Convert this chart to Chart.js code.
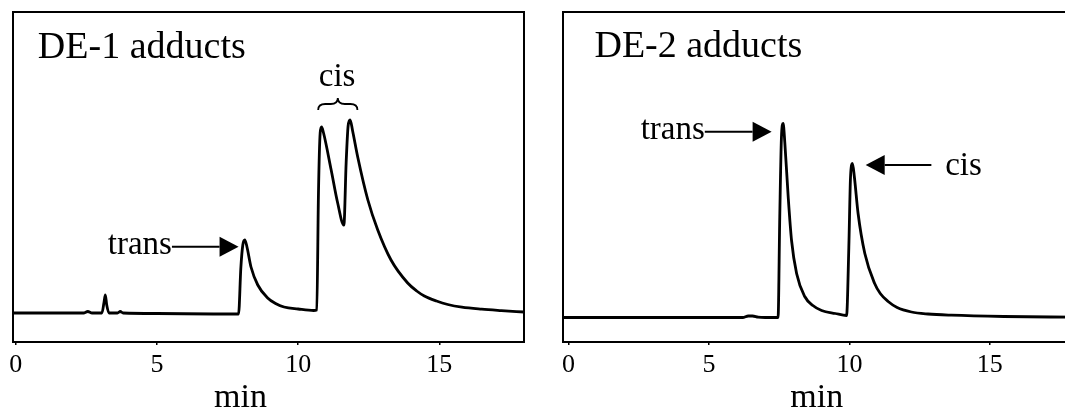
<!DOCTYPE html>
<html>
<head>
<meta charset="utf-8">
<title>DE-1 / DE-2 adducts</title>
<script src="https://cdn.jsdelivr.net/npm/chart.js@4.4.1/dist/chart.umd.min.js"></script>
<style>
  html, body { margin: 0; padding: 0; background: #fff; overflow: hidden; }
  body { width: 1065px; height: 409px; position: relative; }
  canvas { position: absolute; top: 0; }
  #de1 { left: 0; }
  #de2 { left: 545px; }
</style>
</head>
<body>
<canvas id="de1" width="545" height="409"></canvas>
<canvas id="de2" width="540" height="409"></canvas>
<script>
// retention time (min) and detector signal (arbitrary units, 0 = baseline)
const de1Time   = [-0.1, 2.4, 2.55, 2.7, 3.05, 3.12, 3.17, 3.22, 3.3, 3.6, 3.7, 3.8, 5.0, 7.0,
                   7.89, 7.97, 8.04, 8.11, 8.18, 8.33, 8.57, 8.92, 9.2, 9.5, 10.0, 10.55,
                   10.66, 10.72, 10.78, 10.83, 10.9, 11.17, 11.4, 11.62,
                   11.7, 11.77, 11.84, 11.93, 12.11, 12.47, 12.82, 13.29, 13.88, 14.2, 14.47,
                   14.9, 15.3, 15.8, 16.5, 17.2, 18.0];
const de1Signal = [0, 0, 1.5, 0, 0, 10, 18, 8, 0, 0, 1.5, 0, -0.5, -1,
                   -1, 45, 68, 73, 67, 46, 28, 15, 9.5, 6, 4, 2.5,
                   3, 120, 180, 186, 180, 143, 110, 88,
                   150, 187, 193, 182, 156, 113, 83, 53, 30, 22, 17,
                   12, 8.5, 5.8, 3.8, 2.4, 1];

const de2Time   = [-0.2, 6.2, 6.4, 6.55, 6.75, 7.0,
                   7.46, 7.52, 7.58, 7.64, 7.7, 7.82, 7.94, 8.12, 8.41, 8.7, 9.01, 9.5, 9.9,
                   9.98, 10.04, 10.11, 10.18, 10.31, 10.55, 10.9, 11.1, 11.38, 11.7, 12.21,
                   12.8, 13.63, 15.5, 18.0];
const de2Signal = [0, 0, 1.5, 1.5, 0.3, 0,
                   0, 100, 180, 194, 175, 121, 77, 44, 21, 12, 7, 4, 2,
                   70, 140, 154, 140, 104, 64, 34, 24, 16, 10, 5.5,
                   3.5, 2.3, 1, 0.3];

const xTickValues = [0, 5, 10, 15];
const xTitle = 'min';

const SERIF = '"Liberation Serif", "Times New Roman", serif';

// labels and arrows, placed in data units (min, signal)
const de1Notes = {
  texts: [
    { text: 'DE-1 adducts', x: 0.78, y: 254.7, size: 38, align: 'left' },
    { text: 'trans', x: 5.53, y: 58.7, size: 33, align: 'right' },
    { text: 'cis', x: 11.38, y: 227, size: 33, align: 'center' }
  ],
  arrows: [ { from: 5.53, to: 7.89, y: 66.3 } ],
  braces: [ { from: 10.71, to: 12.1, top: 215, bottom: 203 } ],
  axisLabelAt: 7.96
};

const de2Notes = {
  texts: [
    { text: 'DE-2 adducts', x: 0.92, y: 260.2, size: 38, align: 'left' },
    { text: 'trans', x: 4.85, y: 178.2, size: 33, align: 'right' },
    { text: 'cis', x: 13.41, y: 142.5, size: 33, align: 'left' }
  ],
  arrows: [ { from: 4.85, to: 7.23, y: 185.8 }, { from: 12.92, to: 10.58, y: 152.5 } ],
  braces: [],
  axisLabelAt: 8.84
};

function drawArrow(ctx, x1, x2, y) {
  const dir = Math.sign(x2 - x1);
  const headLen = 19, headHalf = 10;
  ctx.beginPath();
  ctx.moveTo(x1, y);
  ctx.lineTo(x2 - dir * headLen, y);
  ctx.stroke();
  ctx.beginPath();
  ctx.moveTo(x2, y);
  ctx.lineTo(x2 - dir * headLen, y - headHalf);
  ctx.lineTo(x2 - dir * headLen, y + headHalf);
  ctx.closePath();
  ctx.fill();
}

function drawBrace(ctx, x1, x2, yTop, yBot) {
  const xm = (x1 + x2) / 2, ym = (yTop + yBot) / 2;
  ctx.beginPath();
  ctx.moveTo(x1, yBot);
  ctx.quadraticCurveTo(x1, ym, x1 + 7, ym);
  ctx.lineTo(xm - 7, ym);
  ctx.quadraticCurveTo(xm, ym, xm, yTop);
  ctx.quadraticCurveTo(xm, ym, xm + 7, ym);
  ctx.lineTo(x2 - 7, ym);
  ctx.quadraticCurveTo(x2, ym, x2, yBot);
  ctx.stroke();
}

const notesPlugin = {
  id: 'notes',
  afterDatasetsDraw(chart, args, opts) {
    const { ctx, chartArea: a, scales: { x, y } } = chart;
    const px = v => x.getPixelForValue(v);
    const py = v => y.getPixelForValue(v);
    ctx.save();
    ctx.strokeStyle = '#000';
    ctx.fillStyle = '#000';
    // box round the plot
    ctx.lineWidth = 2;
    ctx.strokeRect(a.left, a.top, a.right - a.left, a.bottom - a.top);

    ctx.textBaseline = 'alphabetic';
    opts.texts.forEach(t => {
      ctx.font = t.size + 'px ' + SERIF;
      ctx.textAlign = t.align;
      ctx.fillText(t.text, px(t.x), py(t.y));
    });
    ctx.lineWidth = 2;
    opts.arrows.forEach(ar => drawArrow(ctx, px(ar.from), px(ar.to), py(ar.y)));
    ctx.lineWidth = 1.8;
    opts.braces.forEach(b => drawBrace(ctx, px(b.from), px(b.to), py(b.top), py(b.bottom)));

    // axis title, sits a little left of centre in the original
    ctx.font = '34px ' + SERIF;
    ctx.textAlign = 'center';
    ctx.fillText(xTitle, px(opts.axisLabelAt), x.bottom - 2);
    ctx.restore();
  }
};

function makeChart(id, time, signal, xMin, xMax, yMin, yMax, pad, notes) {
  return new Chart(document.getElementById(id), {
    type: 'line',
    data: {
      datasets: [{
        data: time.map((t, i) => ({ x: t, y: signal[i] })),
        borderColor: '#000',
        borderWidth: 2.8,
        pointRadius: 0,
        fill: false,
        cubicInterpolationMode: 'monotone'
      }]
    },
    options: {
      responsive: false,
      animation: false,
      devicePixelRatio: 1,
      events: [],
      layout: { padding: pad },
      scales: {
        x: {
          type: 'linear',
          min: xMin,
          max: xMax,
          afterBuildTicks: s => { s.ticks = xTickValues.map(v => ({ value: v })); },
          afterFit: s => { s.height = 409 - 342; },
          border: { display: false },
          grid: { drawOnChartArea: false, drawTicks: true, tickLength: 3, color: '#000', lineWidth: 1.5 },
          ticks: { color: '#000', font: { family: SERIF, size: 26 }, padding: 5, maxRotation: 0, autoSkip: false }
        },
        y: { display: false, min: yMin, max: yMax }
      },
      plugins: {
        legend: { display: false },
        tooltip: { enabled: false },
        notes: notes
      }
    },
    plugins: [notesPlugin]
  });
}

makeChart('de1', de1Time, de1Signal, -0.1, 18, -29, 301,
  { left: 13, top: 12, right: 21, bottom: 0 }, de1Notes);
makeChart('de2', de2Time, de2Signal, -0.2, 18, -24.5, 305.5,
  { left: 18, top: 12, right: 11, bottom: 0 }, de2Notes);
</script>
</body>
</html>
